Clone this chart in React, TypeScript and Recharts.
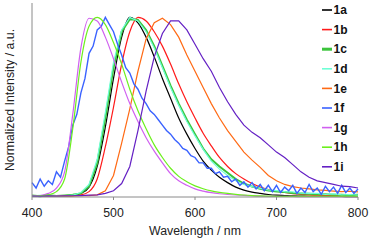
import { Label, Line, LineChart, XAxis, YAxis } from 'recharts'

const FONT = '"Liberation Sans", Arial, sans-serif'

// 10 nm grid, 400..800
const WAVELENGTHS = [
  400, 410, 420, 430, 440, 450, 460, 470, 480, 490,
  500, 510, 520, 530, 540, 550, 560, 570, 580, 590,
  600, 610, 620, 630, 640, 650, 660, 670, 680, 690,
  700, 710, 720, 730, 740, 750, 760, 770, 780, 790, 800,
]

// 5 nm grid for the noisy 1f trace
const WAVELENGTHS_FINE = [
  400, 405, 410, 415, 420, 425, 430, 435, 440, 445,
  450, 455, 460, 465, 470, 475, 480, 485, 490, 495,
  500, 505, 510, 515, 520, 525, 530, 535, 540, 545,
  550, 555, 560, 565, 570, 575, 580, 585, 590, 595,
  600, 605, 610, 615, 620, 625, 630, 635, 640, 645,
  650, 655, 660, 665, 670, 675, 680, 685, 690, 695,
  700, 705, 710, 715, 720, 725, 730, 735, 740, 745,
  750, 755, 760, 765, 770, 775, 780, 785, 790, 795, 800,
]

const S1A = [
  0.004, 0.003, 0.005, 0.004, 0.006, 0.008, 0.02, 0.055, 0.17, 0.39,
  0.66, 0.89, 1.0, 0.97, 0.89, 0.78, 0.66, 0.55, 0.44, 0.35,
  0.27, 0.2, 0.15, 0.11, 0.08, 0.055, 0.038, 0.027, 0.02, 0.014,
  0.01, 0.008, 0.006, 0.005, 0.004, 0.004, 0.003, 0.003, 0.003, 0.002, 0.002,
]
const S1B = [
  0.004, 0.004, 0.005, 0.005, 0.006, 0.008, 0.012, 0.03, 0.1, 0.28,
  0.5, 0.74, 0.92, 1.0, 0.98, 0.92, 0.84, 0.74, 0.63, 0.53,
  0.44, 0.355, 0.285, 0.22, 0.17, 0.13, 0.1, 0.075, 0.056, 0.042,
  0.032, 0.025, 0.019, 0.015, 0.012, 0.01, 0.009, 0.008, 0.007, 0.006, 0.006,
]
const S1C = [
  0.008, 0.004, 0.01, 0.006, 0.009, 0.012, 0.02, 0.06, 0.19, 0.44,
  0.72, 0.92, 0.99, 0.985, 0.93, 0.84, 0.73, 0.62, 0.52, 0.43,
  0.35, 0.27, 0.21, 0.17, 0.135, 0.1, 0.075, 0.058, 0.046, 0.036,
  0.03, 0.028, 0.022, 0.02, 0.018, 0.015, 0.016, 0.012, 0.013, 0.01, 0.012,
]
const S1D = [
  0.006, 0.009, 0.005, 0.008, 0.006, 0.01, 0.025, 0.07, 0.21, 0.47,
  0.75, 0.93, 1.0, 0.98, 0.92, 0.83, 0.72, 0.61, 0.51, 0.42,
  0.34, 0.265, 0.2, 0.155, 0.12, 0.09, 0.07, 0.058, 0.048, 0.04,
  0.035, 0.03, 0.028, 0.022, 0.02, 0.02, 0.015, 0.017, 0.012, 0.014, 0.01,
]
const S1E = [
  0.004, 0.006, 0.004, 0.005, 0.006, 0.005, 0.007, 0.008, 0.012, 0.035,
  0.12, 0.3, 0.49, 0.7, 0.88, 0.97, 0.995, 0.96, 0.89, 0.79,
  0.7, 0.61, 0.52, 0.44, 0.37, 0.31, 0.25, 0.205, 0.165, 0.12,
  0.09, 0.07, 0.058, 0.05, 0.045, 0.04, 0.037, 0.033, 0.03, 0.032, 0.028,
]
const S1F = [
  0.08, 0.05, 0.1, 0.06, 0.09, 0.07, 0.14, 0.11, 0.2, 0.28,
  0.4, 0.46, 0.58, 0.66, 0.8, 0.84, 0.93, 0.95, 1.0, 0.96,
  0.92, 0.85, 0.79, 0.72, 0.69, 0.63, 0.6, 0.55, 0.52, 0.48,
  0.46, 0.43, 0.4, 0.37, 0.35, 0.32, 0.3, 0.27, 0.26, 0.23,
  0.22, 0.19, 0.19, 0.16, 0.16, 0.13, 0.14, 0.11, 0.115, 0.085,
  0.1, 0.065, 0.085, 0.055, 0.08, 0.045, 0.07, 0.035, 0.065, 0.03,
  0.065, 0.025, 0.055, 0.035, 0.065, 0.02, 0.05, 0.025, 0.07, 0.03,
  0.05, 0.015, 0.06, 0.03, 0.055, 0.02, 0.065, 0.025, 0.05, 0.02, 0.045,
]
const S1G = [
  0.005, 0.008, 0.02, 0.05, 0.14, 0.46, 0.83, 0.995, 0.98, 0.89,
  0.77, 0.64, 0.52, 0.42, 0.33, 0.255, 0.19, 0.13, 0.09, 0.065,
  0.045, 0.033, 0.024, 0.018, 0.014, 0.011, 0.009, 0.007, 0.005, 0.004,
  0.003, 0.003, 0.003, 0.002, 0.002, 0.002, 0.002, 0.002, 0.002, 0.002, 0.002,
]
const S1H = [
  0.004, 0.006, 0.012, 0.03, 0.1, 0.38, 0.75, 0.95, 1.0, 0.96,
  0.86, 0.74, 0.6, 0.48, 0.38, 0.29, 0.22, 0.16, 0.115, 0.085,
  0.062, 0.046, 0.034, 0.026, 0.02, 0.015, 0.011, 0.008, 0.006, 0.005,
  0.004, 0.004, 0.003, 0.003, 0.003, 0.003, 0.003, 0.003, 0.003, 0.003, 0.003,
]
const S1I = [
  0.005, 0.004, 0.006, 0.005, 0.006, 0.007, 0.008, 0.01, 0.012, 0.02,
  0.035, 0.075, 0.17, 0.37, 0.59, 0.78, 0.91, 0.98, 0.98, 0.93,
  0.85, 0.77, 0.7, 0.61, 0.53, 0.46, 0.4, 0.36, 0.33, 0.29,
  0.25, 0.22, 0.18, 0.14, 0.11, 0.09, 0.08, 0.07, 0.06, 0.058, 0.05,
]

const X_TICKS = [400, 500, 600, 700, 800]

const NAMES = ['1a', '1b', '1c', '1d', '1e', '1f', '1g', '1h', '1i']
const COLORS = ['#000000', '#ff1a1a', '#3cc43c', '#6fffd6', '#ff6a14', '#3a62ff', '#d060f0', '#6cf01c', '#6420c4']
const WIDTHS = [1.2, 1.2, 2, 1.2, 1.2, 1.4, 1.2, 1.2, 1.2]

const coarse = [S1A, S1B, S1C, S1D, S1E, null, S1G, S1H, S1I]

function toRows(xs: number[], ys: number[]) {
  return xs.map((wl, i) => ({ wl, v: ys[i] }))
}

const seriesData = NAMES.map((_, i) =>
  i === 5 ? toRows(WAVELENGTHS_FINE, S1F) : toRows(WAVELENGTHS, coarse[i] as number[])
)
const smooth = [true, true, false, false, false, false, true, true, false]

// legend drawn as svg so the short line keys always show
function SideLegend() {
  return (
    <svg width={48} height={180} style={{ position: 'absolute', left: 320, top: 0 }}>
      {NAMES.map((name, i) => {
        const cy = 10 + i * 19.6
        return (
          <g key={name}>
            <line x1={2} x2={12} y1={cy} y2={cy} stroke={COLORS[i]} strokeWidth={WIDTHS[i] > 1.5 ? 3 : 1.6} />
            <text x={13.5} y={cy + 4.2} fontSize={12} fontWeight={700} fill="#111" fontFamily={FONT}>
              {name}
            </text>
          </g>
        )
      })}
    </svg>
  )
}

export default function App() {
  return (
    <div style={{ position: 'absolute', left: 0, top: 0, width: 370, height: 240, background: '#fff' }}>
      <LineChart width={370} height={240} margin={{ top: 3, right: 12, bottom: 0, left: 0 }}>
        <XAxis
          dataKey="wl"
          type="number"
          domain={[400, 800]}
          ticks={X_TICKS}
          height={43}
          tickSize={3}
          tickMargin={8.5}
          axisLine={{ stroke: '#8a8a8a' }}
          tickLine={{ stroke: '#8a8a8a' }}
          tick={{ fontSize: 12.3, fill: '#222', fontFamily: FONT }}
          allowDuplicatedCategory={false}
        >
          <Label value="Wavelength / nm" position="insideBottom" offset={5} fontSize={12.3} fill="#222" fontFamily={FONT} />
        </XAxis>
        <YAxis
          type="number"
          domain={[0, 1.08]}
          width={32}
          tick={false}
          tickLine={false}
          axisLine={{ stroke: '#8a8a8a' }}
        >
          <Label
            value="Normalized Intensity / a.u."
            angle={-90}
            position="insideLeft"
            offset={10}
            fontSize={12.3}
            fill="#222"
            fontFamily={FONT}
            style={{ textAnchor: 'middle' }}
          />
        </YAxis>
        {NAMES.map((name, i) => (
          <Line
            key={name}
            data={seriesData[i]}
            dataKey="v"
            name={name}
            type={smooth[i] ? 'monotone' : 'linear'}
            stroke={COLORS[i]}
            strokeWidth={WIDTHS[i]}
            dot={false}
            activeDot={false}
            isAnimationActive={false}
          />
        ))}
      </LineChart>
      <SideLegend />
    </div>
  )
}
